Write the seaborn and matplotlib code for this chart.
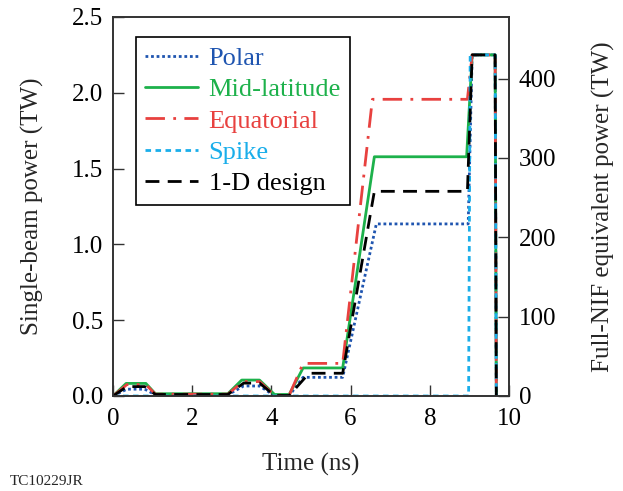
import matplotlib
matplotlib.use("Agg")
import matplotlib.pyplot as plt
import seaborn as sns
import pandas as pd

# ---- data (time in ns, single-beam power in TW) ----
polar_t = [0, 0.35, 0.8, 1.07, 2.9, 3.3, 3.7, 4.08, 4.45, 4.8, 5.8, 6.65, 8.97, 9.07, 9.65, 9.68]
polar_p = [0, 0.045, 0.045, 0.008, 0.008, 0.066, 0.066, 0.002, 0.002, 0.123, 0.123, 1.135, 1.135, 2.25, 2.25, 0]

mid_t = [0, 0.33, 0.83, 1.07, 2.9, 3.25, 3.7, 4.08, 4.45, 4.8, 5.8, 6.6, 8.93, 9.07, 9.65, 9.68]
mid_p = [0, 0.083, 0.083, 0.015, 0.015, 0.105, 0.105, 0.01, 0.01, 0.185, 0.185, 1.578, 1.578, 2.25, 2.25, 0]

eq_t = [0, 0.35, 0.83, 1.07, 2.9, 3.28, 3.7, 4.08, 4.45, 4.8, 5.8, 6.55, 8.95, 9.07, 9.65, 9.68]
eq_p = [0, 0.075, 0.075, 0.012, 0.012, 0.095, 0.095, 0.005, 0.005, 0.215, 0.215, 1.957, 1.957, 2.25, 2.25, 0]

spike_t = [0, 8.98, 9.02, 9.65, 9.68]
spike_p = [0, 0, 2.25, 2.25, 0]

oned_t = [0, 0.35, 0.8, 1.07, 2.9, 3.3, 3.7, 4.08, 4.45, 4.95, 5.8, 6.6, 8.95, 9.07, 9.65, 9.68]
oned_p = [0, 0.062, 0.062, 0.01, 0.01, 0.085, 0.085, 0.003, 0.003, 0.15, 0.15, 1.35, 1.35, 2.25, 2.25, 0]

names = ["Polar", "Mid-latitude", "Equatorial", "Spike", "1-D design"]
colors = ["#1f55b0", "#1db14b", "#e8413f", "#1aaeea", "#000000"]
dashes = [(0, (1, 1)), "-", (0, (7, 3, 1, 3)), (0, (2, 1.6)), (0, (5, 3))]

x_ticks = [0, 2, 4, 6, 8, 10]
y_ticks = [0.0, 0.5, 1.0, 1.5, 2.0, 2.5]
y2_ticks = [0, 100, 200, 300, 400]
beam_factor = 191  # full-NIF equivalent scaling

series = [(polar_t, polar_p), (mid_t, mid_p), (eq_t, eq_p), (spike_t, spike_p), (oned_t, oned_p)]

sns.set_style("ticks")
plt.rcParams["font.family"] = ["Liberation Serif", "DejaVu Serif"]

fig = plt.figure(figsize=(6.23, 4.91), dpi=100)
ax = fig.add_axes([0.1814, 0.1935, 0.6356, 0.7719])

for name, (t, p), c, ls in zip(names, series, colors, dashes):
    df = pd.DataFrame({"t": t, "p": p})
    sns.lineplot(data=df, x="t", y="p", ax=ax, color=c, linewidth=2.0,
                 label=name, estimator=None, sort=False)
    ax.lines[-1].set_linestyle(ls)

ax.set_xlim(0, 10)
ax.set_ylim(0, 2.5)
ax.set_xticks(x_ticks)
ax.set_yticks(y_ticks)
ax.set_yticklabels([f"{v:.1f}" for v in y_ticks])
ax.set_xlabel("Time (ns)", fontsize=18, labelpad=16)
ax.set_ylabel("Single-beam power (TW)", fontsize=18, labelpad=20)
ax.tick_params(axis="x", direction="in", length=8, width=1.0, labelsize=18,
               colors="#333333", labelcolor="black", pad=9)
ax.tick_params(axis="y", direction="in", length=8, width=1.0, labelsize=18,
               colors="#333333", labelcolor="black", pad=7)

ax2 = ax.twinx()
ax2.set_ylim(0, 2.5 * beam_factor)
ax2.set_yticks(y2_ticks)
ax2.tick_params(axis="y", direction="in", length=8, width=1.0, labelsize=18,
                colors="#333333", labelcolor="black", pad=7)
ax2.set_ylabel("Full-NIF equivalent power (TW)", fontsize=18, labelpad=26)

for a in (ax, ax2):
    for s in a.spines.values():
        s.set_visible(True)
        s.set_color("#333333")
        s.set_linewidth(1.2)

leg = ax.legend(loc="upper left", bbox_to_anchor=(0.058, 0.947), fontsize=19,
                frameon=True, fancybox=False, framealpha=1, edgecolor="black",
                handlelength=2.0, handletextpad=0.4, borderpad=0.35,
                labelspacing=0.3, borderaxespad=0)
leg.get_frame().set_linewidth(1.2)
for txt, c in zip(leg.get_texts(), colors):
    txt.set_color(c)

fig.text(0.016, 0.006, "TC10229JR", fontsize=11, ha="left", va="bottom")

fig.savefig("out.png", dpi=100)
